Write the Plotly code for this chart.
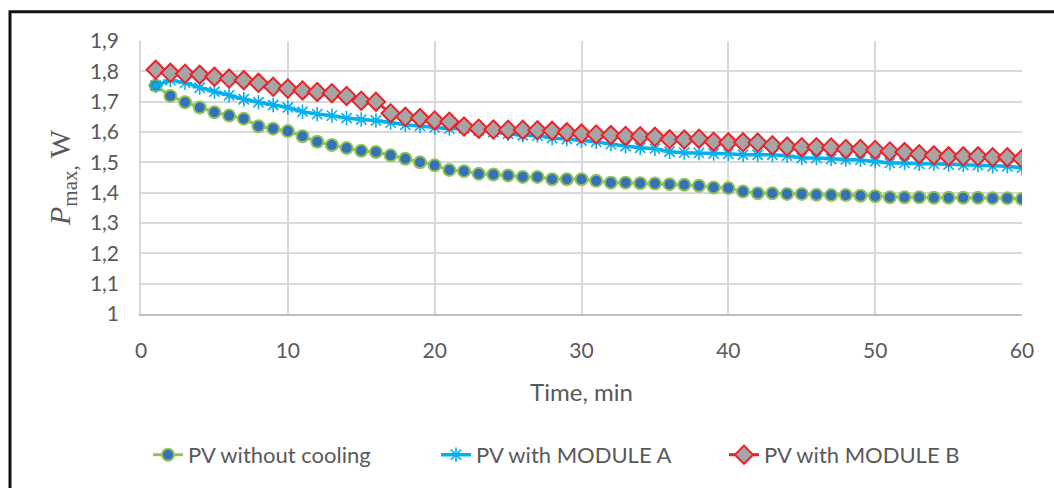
import plotly.graph_objects as go

time_min = list(range(1, 61))

pv_without_cooling = [
    1.753, 1.719, 1.698, 1.681, 1.665, 1.654, 1.644, 1.619, 1.611, 1.603,
    1.586, 1.568, 1.557, 1.547, 1.538, 1.534, 1.523, 1.512, 1.500, 1.490,
    1.475, 1.471, 1.462, 1.460, 1.457, 1.452, 1.452, 1.444, 1.444, 1.444,
    1.439, 1.433, 1.433, 1.431, 1.430, 1.428, 1.426, 1.423, 1.417, 1.415,
    1.404, 1.398, 1.398, 1.396, 1.396, 1.393, 1.392, 1.392, 1.390, 1.388,
    1.385, 1.385, 1.385, 1.383, 1.383, 1.383, 1.383, 1.382, 1.382, 1.379,
]

pv_module_a = [
    1.753, 1.771, 1.762, 1.746, 1.733, 1.721, 1.708, 1.698, 1.689, 1.681,
    1.667, 1.659, 1.654, 1.646, 1.641, 1.638, 1.631, 1.624, 1.620, 1.615,
    1.611, 1.612, 1.605, 1.600, 1.594, 1.589, 1.588, 1.580, 1.577, 1.572,
    1.568, 1.560, 1.553, 1.548, 1.545, 1.535, 1.532, 1.531, 1.529, 1.528,
    1.525, 1.525, 1.525, 1.522, 1.514, 1.514, 1.511, 1.509, 1.508, 1.503,
    1.498, 1.498, 1.495, 1.495, 1.493, 1.491, 1.491, 1.487, 1.487, 1.482,
]

pv_module_b = [
    1.805, 1.795, 1.792, 1.789, 1.782, 1.776, 1.771, 1.762, 1.749, 1.743,
    1.737, 1.732, 1.728, 1.719, 1.703, 1.700, 1.662, 1.650, 1.646, 1.638,
    1.634, 1.618, 1.611, 1.608, 1.607, 1.607, 1.606, 1.604, 1.599, 1.595,
    1.592, 1.590, 1.587, 1.586, 1.584, 1.576, 1.575, 1.578, 1.568, 1.566,
    1.566, 1.565, 1.556, 1.552, 1.550, 1.550, 1.549, 1.544, 1.544, 1.541,
    1.536, 1.534, 1.527, 1.523, 1.520, 1.520, 1.520, 1.517, 1.517, 1.512,
]

series_names = ["PV without cooling", "PV with MODULE A", "PV with MODULE B"]

x_tick_vals = [0, 10, 20, 30, 40, 50, 60]
x_tick_text = ["0", "10", "20", "30", "40", "50", "60"]
y_tick_vals = [1.0, 1.1, 1.2, 1.3, 1.4, 1.5, 1.6, 1.7, 1.8, 1.9]
y_tick_text = ["1", "1,1", "1,2", "1,3", "1,4", "1,5", "1,6", "1,7", "1,8", "1,9"]

FONT = "Lato"
TXT = "#595959"
GRID = "#D9D9D9"

fig = go.Figure()

fig.add_trace(go.Scatter(
    x=time_min, y=pv_without_cooling, name=series_names[0],
    mode="lines+markers",
    line=dict(color="#92C353", width=3),
    marker=dict(symbol="circle", size=12, color="#3471B8",
                line=dict(color="#92C353", width=2)),
))
fig.add_trace(go.Scatter(
    x=time_min, y=pv_module_a, name=series_names[1],
    mode="lines+markers",
    line=dict(color="#00B0F0", width=3.5),
    marker=dict(symbol="asterisk-open", size=12, color="#00B0F0",
                line=dict(color="#00B0F0", width=1.6)),
))
fig.add_trace(go.Scatter(
    x=time_min, y=pv_module_b, name=series_names[2],
    mode="lines+markers",
    line=dict(color="#E8242B", width=3),
    marker=dict(symbol="diamond", size=14, color="#A5A5A5",
                line=dict(color="#E8242B", width=2)),
))

L, R, T, B = 141, 32, 41, 168
W, H = 1054, 488
pw = W - L - R
ph = H - T - B

fig.update_layout(
    width=W, height=H,
    margin=dict(l=L, r=R, t=T, b=B, pad=0),
    paper_bgcolor="white", plot_bgcolor="white",
    font=dict(family=FONT, color=TXT, size=21),
    showlegend=True,
    legend=dict(
        orientation="h",
        x=(148 - L) / pw, xanchor="left",
        y=-(464 - (T + ph)) / ph, yanchor="middle",
        font=dict(family=FONT, size=22, color=TXT),
        entrywidth=243, entrywidthmode="pixels",
        bgcolor="rgba(0,0,0,0)",
    ),
    xaxis=dict(
        range=[0, 60], tickmode="array", tickvals=x_tick_vals, ticktext=x_tick_text,
        showgrid=True, gridcolor=GRID, gridwidth=1.5,
        showline=True, linecolor="#BFBFBF", linewidth=1.5, mirror=False,
        zeroline=False,
        ticks="outside", ticklen=17, tickcolor="rgba(0,0,0,0)",
        tickfont=dict(family=FONT, size=21, color=TXT),
        title=dict(text="Time, min", font=dict(family=FONT, size=24, color=TXT), standoff=23),
    ),
    yaxis=dict(
        range=[1.0, 1.9], tickmode="array", tickvals=y_tick_vals, ticktext=y_tick_text,
        showgrid=True, gridcolor=GRID, gridwidth=1.5,
        showline=True, linecolor="#D9D9D9", linewidth=1.5,
        zeroline=False,
        ticks="outside", ticklen=16, tickcolor="rgba(0,0,0,0)",
        tickfont=dict(family=FONT, size=21, color=TXT),
        title=dict(text="<i>P</i><sub>max,</sub> W",
                   font=dict(family="Liberation Serif", size=30, color=TXT), standoff=10),
    ),
    shapes=[dict(
        type="rect", xref="paper", yref="paper",
        x0=(10 - L) / pw, x1=(1070 - L) / pw,
        y0=-(500 - (T + ph)) / ph, y1=1 + (T - 11) / ph,
        line=dict(color="#111111", width=3), fillcolor="rgba(0,0,0,0)",
        layer="below",
    )],
)

fig.write_html(
    "out.html",
    config={"displayModeBar": False},
    post_script="document.body.style.margin='0px';document.body.style.overflow='hidden';",
)
